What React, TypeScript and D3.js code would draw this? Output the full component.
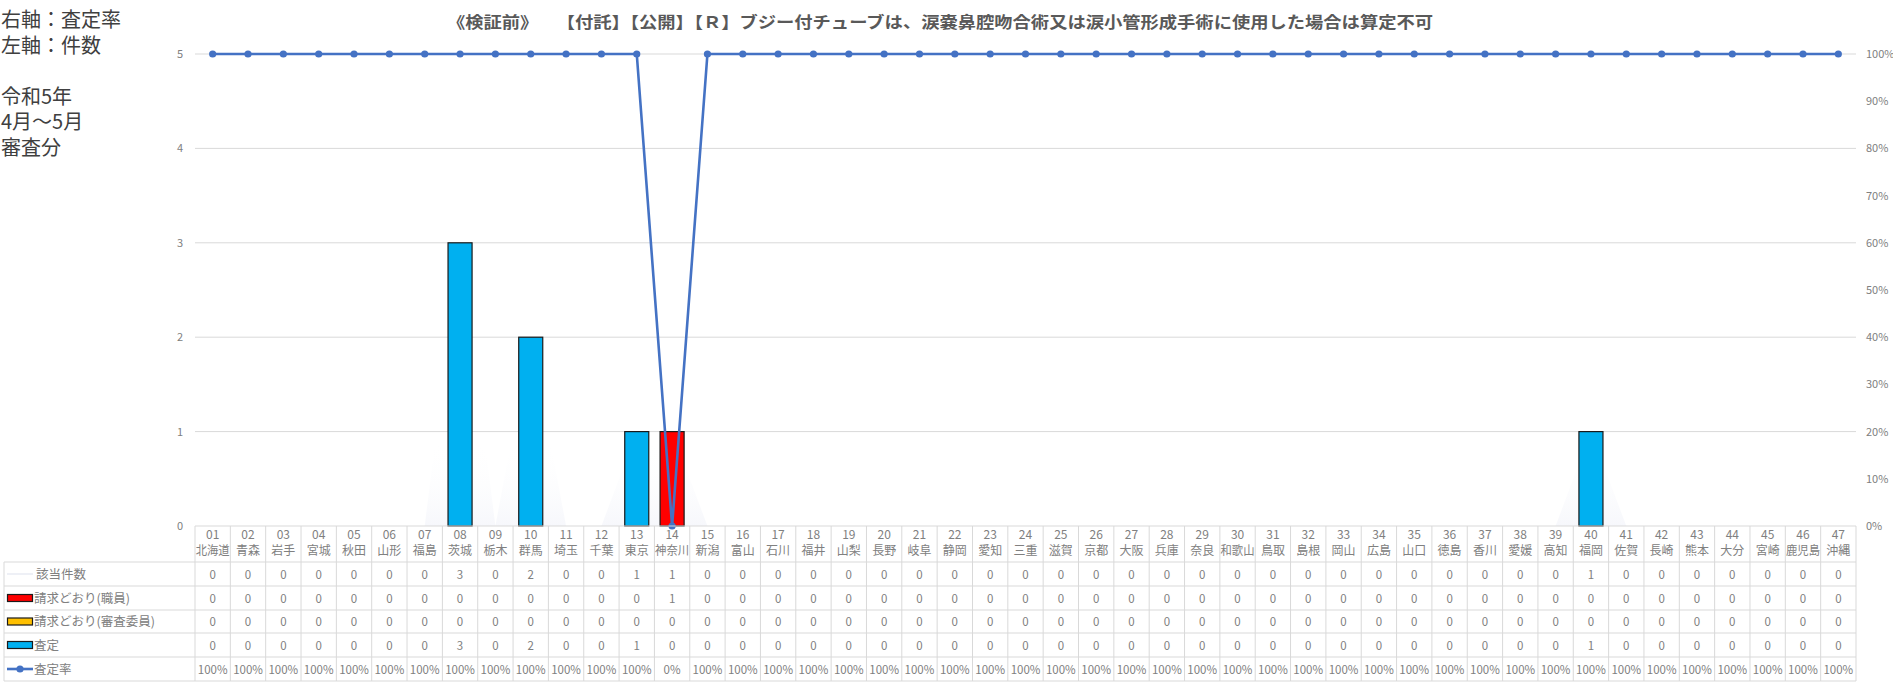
import React from "react";
import * as d3 from "d3";

const codes = ["01","02","03","04","05","06","07","08","09","10","11","12","13","14","15","16","17","18","19","20","21","22","23","24","25","26","27","28","29","30","31","32","33","34","35","36","37","38","39","40","41","42","43","44","45","46","47"];
const prefs = ["北海道","青森","岩手","宮城","秋田","山形","福島","茨城","栃木","群馬","埼玉","千葉","東京","神奈川","新潟","富山","石川","福井","山梨","長野","岐阜","静岡","愛知","三重","滋賀","京都","大阪","兵庫","奈良","和歌山","鳥取","島根","岡山","広島","山口","徳島","香川","愛媛","高知","福岡","佐賀","長崎","熊本","大分","宮崎","鹿児島","沖縄"];
const totalCount = [0,0,0,0,0,0,0,3,0,2,0,0,1,1,0,0,0,0,0,0,0,0,0,0,0,0,0,0,0,0,0,0,0,0,0,0,0,0,0,1,0,0,0,0,0,0,0];
const asClaimedStaff = [0,0,0,0,0,0,0,0,0,0,0,0,0,1,0,0,0,0,0,0,0,0,0,0,0,0,0,0,0,0,0,0,0,0,0,0,0,0,0,0,0,0,0,0,0,0,0];
const asClaimedCommittee = [0,0,0,0,0,0,0,0,0,0,0,0,0,0,0,0,0,0,0,0,0,0,0,0,0,0,0,0,0,0,0,0,0,0,0,0,0,0,0,0,0,0,0,0,0,0,0];
const assessed = [0,0,0,0,0,0,0,3,0,2,0,0,1,0,0,0,0,0,0,0,0,0,0,0,0,0,0,0,0,0,0,0,0,0,0,0,0,0,0,1,0,0,0,0,0,0,0];
const assessRate = [1,1,1,1,1,1,1,1,1,1,1,1,1,0,1,1,1,1,1,1,1,1,1,1,1,1,1,1,1,1,1,1,1,1,1,1,1,1,1,1,1,1,1,1,1,1,1];
const leftTicks = [0,1,2,3,4,5];
const rightTicks = [0,0.1,0.2,0.3,0.4,0.5,0.6,0.7,0.8,0.9,1];
const titleText = "《検証前》　　【付託】【公開】【Ｒ】ブジー付チューブは、涙嚢鼻腔吻合術又は涙小管形成手術に使用した場合は算定不可";
const noteLines = ["右軸：査定率", "左軸：件数", "", "令和5年", "4月～5月", "審査分"];
const rowLabels = ["該当件数", "請求どおり(職員)", "請求どおり(審査委員)", "査定", "査定率"];

const W = 1893, H = 685;
const X0 = 195, X1 = 1856, Y0 = 526, Y5 = 54;
const FONT = "'Noto Sans CJK JP', 'Noto Sans', sans-serif";
const GRID = "#d9d9d9";
const TXT = "#808080";
const C_RED = "#FF0000", C_YEL = "#FFC000", C_BLUE = "#00B0F0", C_LINE = "#4472C4";

export default function App() {
  const x = d3.scaleBand<string>().domain(codes).range([X0, X1]).padding(0);
  const bw = x.bandwidth();
  const barW = bw * 0.68;
  const yL = d3.scaleLinear().domain([0, 5]).range([Y0, Y5]);
  const yR = d3.scaleLinear().domain([0, 1]).range([Y0, Y5]);
  const cx = (i: number) => (x(codes[i]) as number) + bw / 2;

  const line = d3.line<number>().x((_, i) => cx(i)).y((d) => yR(d));
  const area = d3.area<number>().x((_, i) => cx(i)).y0(Y0).y1((d) => yL(d));

  const rowTops = [562, 586, 610, 633, 657, 681];
  const fmtPct = d3.format(".0%");
  const rowValues: string[][] = [
    totalCount.map(String),
    asClaimedStaff.map(String),
    asClaimedCommittee.map(String),
    assessed.map(String),
    assessRate.map((v) => fmtPct(v)),
  ];

  return (
    <svg width={W} height={H} style={{ position: "absolute", left: 0, top: 0, background: "#fff" }} fontFamily={FONT}>
      <defs>
        <linearGradient id="fade" gradientUnits="userSpaceOnUse" x1="0" y1={Y0} x2="0" y2={440}>
          <stop offset="0" stopColor="#eef0f8" stopOpacity={0.5} />
          <stop offset="1" stopColor="#ffffff" stopOpacity={0} />
        </linearGradient>
      </defs>
      {/* notes */}
      {noteLines.map((t, i) => (
        <text key={i} x={1} y={27 + i * 25.5} fontSize={20} fill="#404040">{t}</text>
      ))}
      {/* title */}
      <text x={940} y={28} fontSize={16} fontWeight="bold" fill="#595959" textAnchor="middle" textLength={986} lengthAdjust="spacingAndGlyphs">{titleText}</text>

      {/* grid */}
      {leftTicks.filter((t) => t > 0).map((t) => (
        <line key={t} x1={X0} x2={X1} y1={yL(t)} y2={yL(t)} stroke={GRID} strokeWidth={1} />
      ))}
      {leftTicks.map((t) => (
        <text key={t} x={183} y={yL(t) + 4} fontSize={11} fill={TXT} textAnchor="end">{t}</text>
      ))}
      {rightTicks.map((t) => (
        <text key={t} x={1866} y={yR(t) + 4} fontSize={11} fill={TXT}>{fmtPct(t)}</text>
      ))}

      {/* faint area for 該当件数 */}
      <path d={area(totalCount) || ""} fill="url(#fade)" />

      {/* stacked bars */}
      {codes.map((c, i) => {
        const segs = [
          { v: asClaimedStaff[i], col: C_RED },
          { v: asClaimedCommittee[i], col: C_YEL },
          { v: assessed[i], col: C_BLUE },
        ];
        let acc = 0;
        return (
          <g key={c}>
            {segs.map((s, k) => {
              if (s.v <= 0) return null;
              const y1 = yL(acc + s.v);
              const y0 = yL(acc);
              acc += s.v;
              return (
                <rect key={k} x={cx(i) - barW / 2} y={y1} width={barW} height={y0 - y1} fill={s.col} stroke="#1a1a1a" strokeWidth={1.2} />
              );
            })}
          </g>
        );
      })}

      {/* rate line */}
      <path d={line(assessRate) || ""} fill="none" stroke={C_LINE} strokeWidth={2.6} strokeLinejoin="round" />
      {assessRate.map((v, i) => (
        <circle key={i} cx={cx(i)} cy={yR(v)} r={3.6} fill={C_LINE} />
      ))}

      {/* data table */}
      <g>
        <line x1={X0} x2={X1} y1={Y0} y2={Y0} stroke={GRID} />
        {rowTops.map((y, k) => (
          <line key={k} x1={4} x2={X1} y1={y} y2={y} stroke={GRID} />
        ))}
        <line x1={4} x2={4} y1={rowTops[0]} y2={rowTops[5]} stroke={GRID} />
        {codes.map((c) => (
          <line key={c} x1={x(c) as number} x2={x(c) as number} y1={Y0} y2={rowTops[5]} stroke={GRID} />
        ))}
        <line x1={X1} x2={X1} y1={Y0} y2={rowTops[5]} stroke={GRID} />
        {codes.map((c, i) => (
          <g key={c}>
            <text x={cx(i)} y={539} fontSize={12} fill={TXT} textAnchor="middle">{c}</text>
            <text x={cx(i)} y={555} fontSize={12} fill={TXT} textAnchor="middle" textLength={prefs[i].length >= 3 ? 34 : undefined} lengthAdjust="spacingAndGlyphs">{prefs[i]}</text>
          </g>
        ))}
        {rowLabels.map((lab, r) => {
          const yc = (rowTops[r] + rowTops[r + 1]) / 2;
          return (
            <g key={lab}>
              {r === 0 && <line x1={7} x2={33} y1={yc} y2={yc} stroke="#eef0f6" strokeWidth={2} />}
              {r === 1 && <rect x={7.5} y={yc - 3.5} width={25} height={7} fill={C_RED} stroke="#1a1a1a" strokeWidth={1.2} />}
              {r === 2 && <rect x={7.5} y={yc - 3.5} width={25} height={7} fill={C_YEL} stroke="#1a1a1a" strokeWidth={1.2} />}
              {r === 3 && <rect x={7.5} y={yc - 3.5} width={25} height={7} fill={C_BLUE} stroke="#1a1a1a" strokeWidth={1.2} />}
              {r === 4 && (
                <g>
                  <line x1={7} x2={33} y1={yc} y2={yc} stroke={C_LINE} strokeWidth={2.6} />
                  <circle cx={20} cy={yc} r={3.6} fill={C_LINE} />
                </g>
              )}
              <text x={r === 0 ? 36 : 34} y={yc + 4.5} fontSize={12.5} fill={TXT}>{lab}</text>
              {rowValues[r].map((v, i) => (
                <text key={i} x={cx(i)} y={yc + 4.5} fontSize={11.5} fill={TXT} textAnchor="middle">{v}</text>
              ))}
            </g>
          );
        })}
      </g>
    </svg>
  );
}
